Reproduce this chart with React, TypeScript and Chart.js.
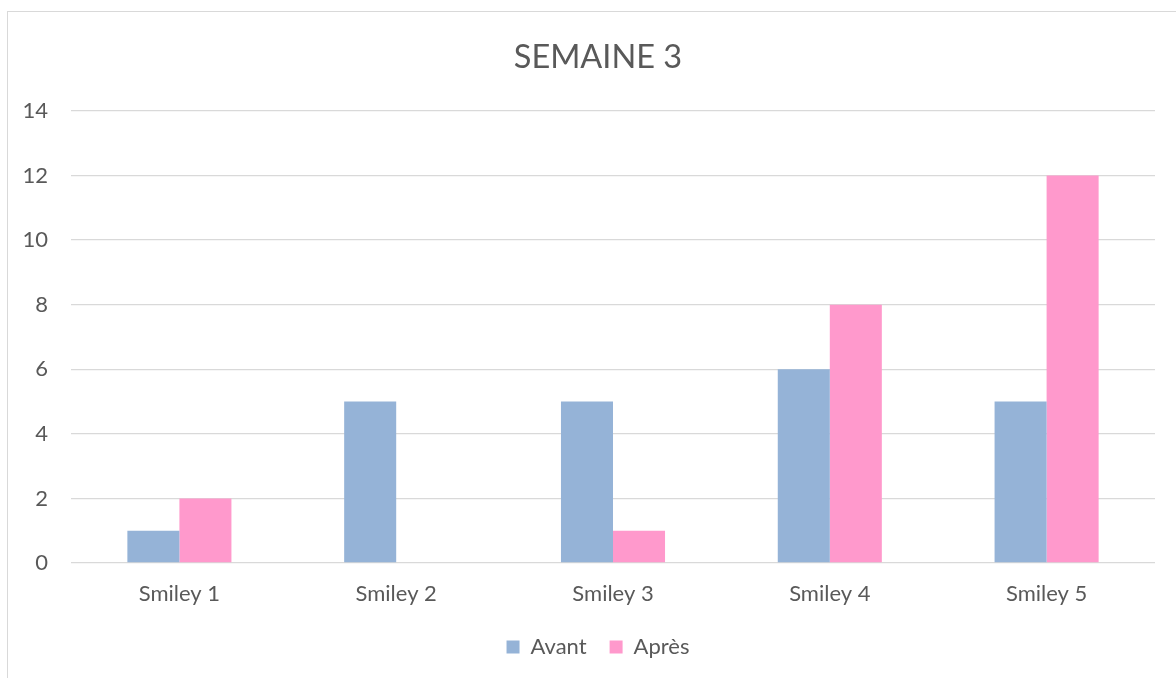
import React, { useEffect, useRef } from "react";
import { Chart, registerables } from "chart.js";

Chart.register(...registerables);

const categories = ["Smiley 1", "Smiley 2", "Smiley 3", "Smiley 4", "Smiley 5"];
const avantValues = [1, 5, 5, 6, 5];
const apresValues = [2, 0, 1, 8, 12];
const titleText = "SEMAINE 3";
const seriesNames = ["Avant", "Après"];

const FONT = "Lato, 'Open Sans', sans-serif";
const TEXT = "#595959";

export default function App() {
  const ref = useRef<HTMLCanvasElement | null>(null);
  useEffect(() => {
    if (!ref.current) return;
    const chart = new Chart(ref.current, {
      type: "bar",
      data: {
        labels: categories,
        datasets: [
          {
            label: seriesNames[0],
            data: avantValues,
            backgroundColor: "#95B3D7",
            categoryPercentage: 0.48,
            barPercentage: 1,
          },
          {
            label: seriesNames[1],
            data: apresValues,
            backgroundColor: "#FF99CC",
            categoryPercentage: 0.48,
            barPercentage: 1,
          },
        ],
      },
      options: {
        animation: false,
        responsive: false,
        maintainAspectRatio: false,
        layout: { padding: { left: 0, right: 0, top: 0, bottom: 10 } },
        plugins: {
          title: {
            display: true,
            text: titleText,
            color: TEXT,
            font: { family: FONT, size: 32.5, weight: "normal" },
            padding: { top: 26, bottom: 34 },
          },
          legend: {
            position: "bottom",
            labels: {
              color: TEXT,
              font: { family: FONT, size: 22 },
              boxWidth: 13,
              boxHeight: 13,
              padding: 23,
            },
          },
          tooltip: { enabled: false },
        },
        scales: {
          x: {
            grid: { display: false },
            border: { display: false },
            ticks: { color: TEXT, font: { family: FONT, size: 22 }, padding: 10 },
            afterFit: (s: any) => {
              s.height = 50;
            },
          },
          y: {
            min: 0,
            max: 14,
            ticks: { stepSize: 2, color: TEXT, font: { family: FONT, size: 22 }, padding: 23 },
            grid: { color: "#D9D9D9", lineWidth: 1.3, drawTicks: false },
            border: { display: false },
            afterFit: (s: any) => {
              s.width = 63;
            },
          },
          yRight: {
            position: "right",
            grid: { display: false, drawTicks: false },
            border: { display: false },
            ticks: { display: false },
            afterFit: (s: any) => {
              s.width = 33;
            },
          },
        },
      },
    });
    return () => chart.destroy();
  }, []);
  return (
    <div
      style={{
        position: "fixed",
        left: 7,
        top: 11,
        width: 1200,
        height: 700,
        border: "1px solid #D9D9D9",
        background: "#fff",
      }}
    >
      <canvas ref={ref} width={1180} height={666} style={{ display: "block", width: 1180, height: 666 }} />
    </div>
  );
}
